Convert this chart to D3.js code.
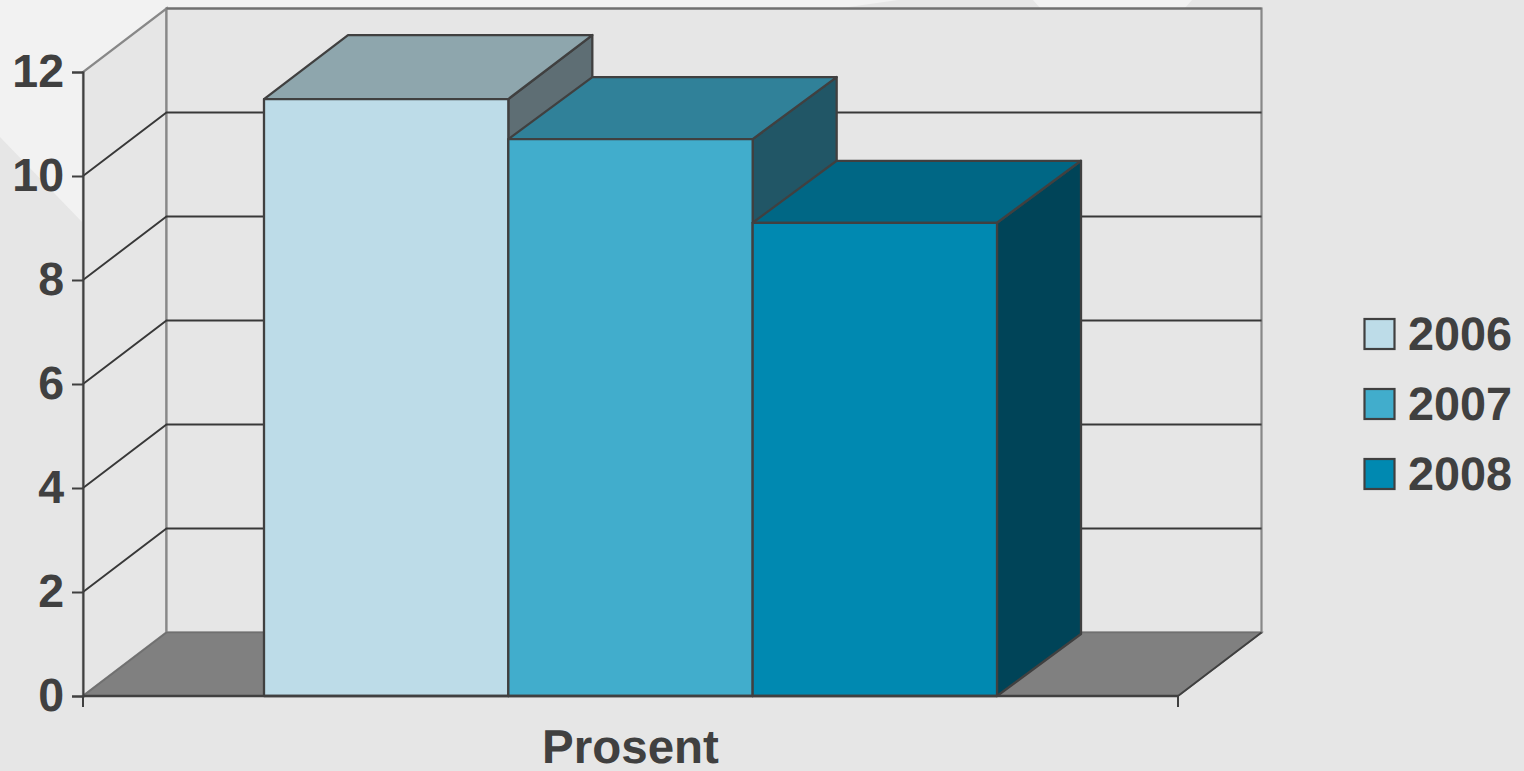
<!DOCTYPE html>
<html>
<head>
<meta charset="utf-8">
<script src="https://cdn.jsdelivr.net/npm/d3@7"></script>
<style>
  html, body { margin: 0; padding: 0; background: #e6e6e6; overflow: hidden; }
  text { font-family: "Liberation Sans", Arial, sans-serif; font-weight: bold; fill: #404040; text-rendering: geometricPrecision; opacity: 0.999; }
</style>
</head>
<body>
<svg id="chart" width="1524" height="771"></svg>
<script>
const categories = ["Prosent"];
const years = ["2006", "2007", "2008"];
const values = [11.48, 10.71, 9.1];
const yTicks = [0, 2, 4, 6, 8, 10, 12];
const frontColors = ["#bddce8", "#41adcc", "#0089b1"];
const topColors = ["#8ea6ad", "#308199", "#006785"];
const sideColors = ["#5e6e74", "#215666", "#004458"];

const svg = d3.select("#chart");
const ink = "#404040";
const wallLine = "#888888";

const margins = {left: 83, right: 1178, top: 72, bottom: 696};
const depth = {x: 83.5, y: -63.5};
// the bars sit a touch differently against the back wall
const barDepth = {x: 84, y: [-64, -62, -62]};

const xScale = d3.scaleBand()
  .domain(categories)
  .range([margins.left, margins.right]);

const barScale = d3.scaleBand()
  .domain(years)
  .range([xScale("Prosent") + 181, xScale("Prosent") + 914]);

const yScale = d3.scaleLinear()
  .domain([0, 12])
  .range([margins.bottom, margins.top]);

const poly = pts => pts.map(p => p.join(",")).join(" ");
const x0 = margins.left, x1 = margins.right;
const yB = yScale(0), yT = yScale(12);

// pale background shapes behind the plot
const bg = svg.append("g").attr("fill", "#f2f2f2");
bg.append("polygon").attr("points", poly([[0, 0], [0, 137], [84, 224], [300, 60], [842, 8], [898, 0]]));
bg.append("polygon").attr("points", poly([[1033, 0], [1040, 8], [1185, 8], [1192, 0]]));

// walls and floor
svg.append("polygon")
  .attr("points", poly([[x0, yB], [x0, yT], [x0 + depth.x, yT + depth.y], [x0 + depth.x, yB + depth.y]]))
  .attr("fill", "#e6e6e6").attr("stroke", wallLine).attr("stroke-width", 2.2);
svg.append("rect")
  .attr("x", x0 + depth.x).attr("y", yT + depth.y)
  .attr("width", x1 - x0).attr("height", yB - yT)
  .attr("fill", "#e6e6e6").attr("stroke", wallLine).attr("stroke-width", 2.2);
svg.append("line")
  .attr("x1", x0 + depth.x).attr("x2", x1 + depth.x).attr("y1", yT + depth.y).attr("y2", yT + depth.y)
  .attr("stroke", "#707070").attr("stroke-width", 2.2);
svg.append("polygon")
  .attr("points", poly([[x0, yB], [x0 + depth.x, yB + depth.y], [x1 + depth.x, yB + depth.y], [x1, yB]]))
  .attr("fill", "#808080").attr("stroke", "#707070").attr("stroke-width", 1.6);
svg.append("line")
  .attr("x1", x1).attr("y1", yB).attr("x2", x1 + depth.x).attr("y2", yB + depth.y)
  .attr("stroke", ink).attr("stroke-width", 1.8);

// gridlines along side wall and back wall
const grid = svg.append("g").attr("fill", "none").attr("stroke", "#383838").attr("stroke-width", 1.9);
yTicks.filter(d => d > 0 && d < 12).forEach(d => {
  grid.append("polyline").attr("points", poly([[x0, yScale(d)], [x0 + depth.x, yScale(d) + depth.y], [x1 + depth.x, yScale(d) + depth.y]]));
});

// axes
const yAxis = svg.append("g")
  .attr("transform", `translate(${x0},0)`)
  .call(d3.axisLeft(yScale).tickValues(yTicks).tickSize(11).tickPadding(8).tickFormat(d3.format("d")));
yAxis.selectAll("path,line").attr("stroke", ink).attr("stroke-width", 2);
yAxis.selectAll("text").attr("font-size", 46.5).attr("fill", ink);

const xAxis = svg.append("g").attr("transform", `translate(0,${yB})`);
[x0, x1].forEach(x => xAxis.append("line").attr("x1", x).attr("x2", x).attr("y2", 11).attr("stroke", ink).attr("stroke-width", 2));
xAxis.append("text").attr("x", xScale("Prosent") + xScale.bandwidth() / 2).attr("y", 67)
  .attr("text-anchor", "middle").attr("font-size", 47.5).text(categories[0]);

// bars, left to right so each one overlaps the side of the last
const bars = svg.append("g").attr("stroke", ink).attr("stroke-width", 2.3).attr("stroke-linejoin", "round");
years.forEach((yr, i) => {
  const l = barScale(yr), r = l + barScale.bandwidth(), t = yScale(values[i]);
  const dx = barDepth.x, dy = barDepth.y[i];
  bars.append("polygon").attr("fill", sideColors[i])
    .attr("points", poly([[r, yB], [r, t], [r + dx, t + dy], [r + dx, yB + dy]]));
  bars.append("polygon").attr("fill", topColors[i])
    .attr("points", poly([[l, t], [l + dx, t + dy], [r + dx, t + dy], [r, t]]));
  bars.append("rect").attr("fill", frontColors[i])
    .attr("x", l).attr("y", t).attr("width", r - l).attr("height", yB - t);
});

// base line goes over the bars
xAxis.raise();
xAxis.append("line").attr("x1", x0).attr("x2", x1).attr("stroke", ink).attr("stroke-width", 2.4);

// legend
const legendY = d3.scalePoint().domain(years).range([334, 474]);
const legend = svg.append("g");
years.forEach((yr, i) => {
  legend.append("rect").attr("x", 1364.5).attr("y", legendY(yr) - 15).attr("width", 30).attr("height", 30)
    .attr("fill", frontColors[i]).attr("stroke", ink).attr("stroke-width", 2.2);
  legend.append("text").attr("x", 1408).attr("y", legendY(yr) + 16).attr("font-size", 46.8).text(yr);
});
</script>
</body>
</html>
